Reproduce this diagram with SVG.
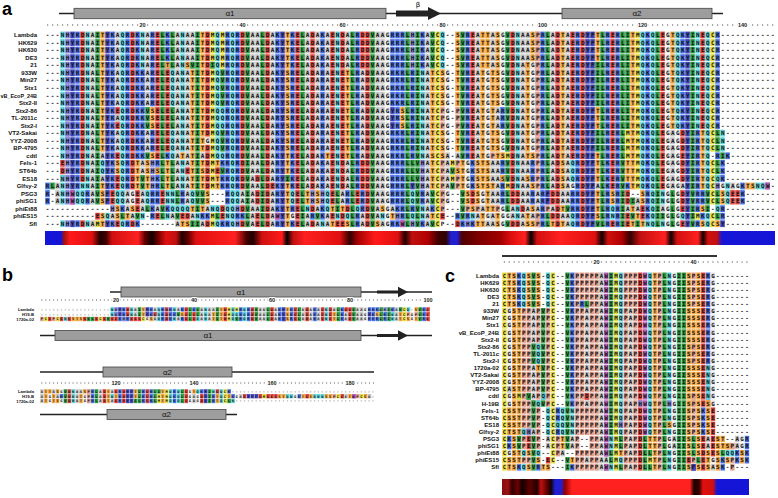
<svg xmlns="http://www.w3.org/2000/svg" width="778" height="498" viewBox="0 0 778 498">
<style>
.xd,.xk,.xs,.xn,.xv,.xa,.xg,.xf,.xh,.xw,.xp,.xc{fill:none;stroke:none}
.xd{marker:url(#md)}.xk{marker:url(#mk)}.xs{marker:url(#ms)}.xn{marker:url(#mn)}.xv{marker:url(#mv)}.xa{marker:url(#ma)}
.xg{marker:url(#mg)}.xf{marker:url(#mf)}.xh{marker:url(#mh)}.xw{marker:url(#mw)}.xp{marker:url(#mp)}.xc{marker:url(#mc)}
.lb{font-family:"Liberation Sans",Arial,sans-serif;font-weight:bold;font-size:6px;text-anchor:end;fill:#111}
.lbb{font-size:4.2px}
.sa,.sc,.sb{font-family:"DejaVu Sans Mono",monospace;font-weight:bold;fill:#111}
.sa{font-size:6px;letter-spacing:1.39px}
.sc{font-size:5.8px;letter-spacing:1.36px}
.sb{font-size:3.6px;letter-spacing:1.73px}
.rl{fill:none;stroke:#555;stroke-width:1.1}
.rn{font-family:"Liberation Sans",Arial,sans-serif;font-weight:bold;font-size:5.5px;text-anchor:middle;fill:#222;stroke:#fff;stroke-width:2.2px;paint-order:stroke}
.bar{fill:#9d9d9d;stroke:#444;stroke-width:.8}
.ln{stroke:#222;stroke-width:1.4;fill:none}
.hx{font-family:"Liberation Sans",Arial,sans-serif;font-size:8px;text-anchor:middle;fill:#111}
.bt{font-family:"DejaVu Sans",sans-serif;font-size:7px;text-anchor:middle;fill:#000}
.pl{font-family:"Liberation Sans",Arial,sans-serif;font-weight:bold;font-size:18px;fill:#000}
</style>
<defs>
<marker id="md" markerUnits="userSpaceOnUse" markerWidth="1" markerHeight="1" overflow="visible"><rect x=".04" y=".05" width=".92" height=".9" fill="#e0443e"/></marker>
<marker id="mk" markerUnits="userSpaceOnUse" markerWidth="1" markerHeight="1" overflow="visible"><rect x=".04" y=".05" width=".92" height=".9" fill="#4a72e8"/></marker>
<marker id="ms" markerUnits="userSpaceOnUse" markerWidth="1" markerHeight="1" overflow="visible"><rect x=".04" y=".05" width=".92" height=".9" fill="#f4a640"/></marker>
<marker id="mn" markerUnits="userSpaceOnUse" markerWidth="1" markerHeight="1" overflow="visible"><rect x=".04" y=".05" width=".92" height=".9" fill="#5cd3dd"/></marker>
<marker id="mv" markerUnits="userSpaceOnUse" markerWidth="1" markerHeight="1" overflow="visible"><rect x=".04" y=".05" width=".92" height=".9" fill="#2f9a42"/></marker>
<marker id="ma" markerUnits="userSpaceOnUse" markerWidth="1" markerHeight="1" overflow="visible"><rect x=".04" y=".05" width=".92" height=".9" fill="#c8c8c8"/></marker>
<marker id="mg" markerUnits="userSpaceOnUse" markerWidth="1" markerHeight="1" overflow="visible"><rect x=".04" y=".05" width=".92" height=".9" fill="#ebebeb"/></marker>
<marker id="mf" markerUnits="userSpaceOnUse" markerWidth="1" markerHeight="1" overflow="visible"><rect x=".04" y=".05" width=".92" height=".9" fill="#4046b8"/></marker>
<marker id="mh" markerUnits="userSpaceOnUse" markerWidth="1" markerHeight="1" overflow="visible"><rect x=".04" y=".05" width=".92" height=".9" fill="#8686d6"/></marker>
<marker id="mw" markerUnits="userSpaceOnUse" markerWidth="1" markerHeight="1" overflow="visible"><rect x=".04" y=".05" width=".92" height=".9" fill="#b45ab4"/></marker>
<marker id="mp" markerUnits="userSpaceOnUse" markerWidth="1" markerHeight="1" overflow="visible"><rect x=".04" y=".05" width=".92" height=".9" fill="#e0a090"/></marker>
<marker id="mc" markerUnits="userSpaceOnUse" markerWidth="1" markerHeight="1" overflow="visible"><rect x=".04" y=".05" width=".92" height=".9" fill="#e4dc3c"/></marker>
<linearGradient id="gA" gradientUnits="userSpaceOnUse" x1="0" y1="0" x2="1000" y2="0">
<stop offset=".045" stop-color="#1515d8"/><stop offset=".061" stop-color="#1515d8"/><stop offset=".064" stop-color="#a01010"/><stop offset=".070" stop-color="#ff1a1a"/><stop offset=".092" stop-color="#e01010"/><stop offset=".100" stop-color="#200000"/><stop offset=".106" stop-color="#400000"/><stop offset=".112" stop-color="#d01010"/><stop offset=".138" stop-color="#ff2020"/><stop offset=".145" stop-color="#600000"/><stop offset=".152" stop-color="#100000"/><stop offset=".158" stop-color="#700000"/><stop offset=".166" stop-color="#e01010"/><stop offset=".176" stop-color="#c01010"/><stop offset=".182" stop-color="#200000"/><stop offset=".188" stop-color="#600000"/><stop offset=".196" stop-color="#e01010"/><stop offset=".235" stop-color="#ff2020"/><stop offset=".247" stop-color="#400000"/><stop offset=".253" stop-color="#200000"/><stop offset=".262" stop-color="#d01010"/><stop offset=".282" stop-color="#ff1a1a"/><stop offset=".287" stop-color="#000"/><stop offset=".293" stop-color="#c01010"/><stop offset=".305" stop-color="#ff2020"/><stop offset=".340" stop-color="#e01010"/><stop offset=".350" stop-color="#300000"/><stop offset=".357" stop-color="#a00000"/><stop offset=".375" stop-color="#ff1a1a"/><stop offset=".398" stop-color="#e01010"/><stop offset=".405" stop-color="#200000"/><stop offset=".412" stop-color="#c01010"/><stop offset=".428" stop-color="#b00000"/><stop offset=".438" stop-color="#400000"/><stop offset=".446" stop-color="#300000"/><stop offset=".451" stop-color="#2020d0"/><stop offset=".457" stop-color="#2020d0"/><stop offset=".462" stop-color="#500000"/><stop offset=".480" stop-color="#800000"/><stop offset=".500" stop-color="#a00000"/><stop offset=".512" stop-color="#e01010"/><stop offset=".525" stop-color="#ff2020"/><stop offset=".531" stop-color="#000"/><stop offset=".537" stop-color="#d01010"/><stop offset=".560" stop-color="#ff2020"/><stop offset=".595" stop-color="#e01010"/><stop offset=".602" stop-color="#100000"/><stop offset=".608" stop-color="#d01010"/><stop offset=".622" stop-color="#b00000"/><stop offset=".630" stop-color="#300000"/><stop offset=".640" stop-color="#c01010"/><stop offset=".665" stop-color="#ff2020"/><stop offset=".671" stop-color="#100000"/><stop offset=".677" stop-color="#d01010"/><stop offset=".698" stop-color="#ff2020"/><stop offset=".703" stop-color="#100000"/><stop offset=".708" stop-color="#d01010"/><stop offset=".717" stop-color="#c01010"/><stop offset=".722" stop-color="#1515d8"/><stop offset=".775" stop-color="#1515d8"/>
</linearGradient>
<linearGradient id="gC" gradientUnits="userSpaceOnUse" x1="0" y1="0" x2="1000" y2="0">
<stop offset=".502" stop-color="#801010"/><stop offset=".508" stop-color="#a01010"/><stop offset=".512" stop-color="#300000"/><stop offset=".518" stop-color="#700000"/><stop offset=".522" stop-color="#100000"/><stop offset=".530" stop-color="#600000"/><stop offset=".537" stop-color="#200000"/><stop offset=".541" stop-color="#c01010"/><stop offset=".547" stop-color="#600000"/><stop offset=".551" stop-color="#100000"/><stop offset=".555" stop-color="#2020d0"/><stop offset=".561" stop-color="#2020d0"/><stop offset=".565" stop-color="#900000"/><stop offset=".572" stop-color="#ff2020"/><stop offset=".690" stop-color="#ff2020"/><stop offset=".694" stop-color="#200000"/><stop offset=".699" stop-color="#300000"/><stop offset=".703" stop-color="#e01010"/><stop offset=".713" stop-color="#d01010"/><stop offset=".717" stop-color="#1515d8"/><stop offset=".750" stop-color="#1515d8"/>
</linearGradient>
<g id="A1"><path class="xd" d="M7 0H17 22 32 39 44 50 53 57 59 63 64 85 93 102 105 107 113 123 131"/><path class="xk" d="M6 0H13 16 18 21 24 36 38 46 49 55 62 69 70 71 75 84 99 106 112 114 120 127 134"/><path class="xs" d="M11 0H31 48 82 87 88 90 97 103 110 117 125"/><path class="xn" d="M3 0H8 15 19 27 34 37 58 79 94 119 121 126 130 132"/><path class="xv" d="M10 0H23 25 30 40 43 51 61 65 72 74 77 83 92 100 111 115 116 122 129"/><path class="xa" d="M9 0H14 20 26 28 29 41 42 45 52 54 56 60 66 67 76 86 89 95 96 101 104"/><path class="xg" d="M68 0H91 124"/><path class="xf" d="M5 0H12 47 108 109 128"/><path class="xh" d="M4 0H73"/><path class="xp" d="M98 0H98"/><path class="xc" d="M33 0H35 78 118 133"/></g>
<g id="A6"><path class="xd" d="M7 0H17 22 24 32 39 44 50 53 57 59 64 85 93 102 105 107 113 123 131"/><path class="xk" d="M6 0H13 16 18 19 21 36 38 46 49 55 62 69 70 71 73 84 99 106 112 114 120 127 134"/><path class="xs" d="M11 0H29 31 48 60 77 79 82 87 89 90 96 103 117 125"/><path class="xn" d="M3 0H8 15 25 27 34 37 58 75 94 119 121 126 130 132"/><path class="xv" d="M10 0H23 30 35 40 43 51 61 65 72 74 83 92 100 110 111 115 116 122 129"/><path class="xa" d="M9 0H14 20 26 28 41 42 45 52 54 56 63 66 67 76 86 95 101 104"/><path class="xg" d="M68 0H80 88 91 97 124"/><path class="xf" d="M5 0H12 47 108 109 128"/><path class="xh" d="M4 0H4"/><path class="xp" d="M98 0H98"/><path class="xc" d="M33 0H78 118 133"/></g>
<g id="A11"><path class="xd" d="M7 0H14 17 22 24 32 39 44 50 53 57 59 64 85 93 102 105 107 113 123 131"/><path class="xk" d="M6 0H13 16 18 19 36 38 46 49 55 62 70 73 84 91 99 106 112 114 120 127 134"/><path class="xs" d="M11 0H21 29 31 48 60 71 77 87 89 96 103 110 117 125"/><path class="xn" d="M3 0H8 15 27 34 35 37 58 75 94 119 121 126 130 132"/><path class="xv" d="M10 0H20 23 25 30 40 43 51 61 65 72 74 83 92 100 111 115 116 122 129"/><path class="xa" d="M9 0H26 28 41 42 45 52 54 56 63 66 67 76 86 90 95 101 104"/><path class="xg" d="M68 0H80 88 97 124"/><path class="xf" d="M5 0H12 47 69 108 109 128"/><path class="xh" d="M4 0H4"/><path class="xp" d="M79 0H82 98"/><path class="xc" d="M33 0H78 118 133"/></g>
<g id="A14"><path class="xd" d="M7 0H17 22 24 32 39 44 50 53 57 59 64 85 93 102 105 107 113 123 127"/><path class="xk" d="M6 0H13 16 18 19 21 36 38 46 49 55 62 69 70 71 73 84 99 106 112 114 120 130"/><path class="xs" d="M11 0H29 31 48 60 77 79 82 87 89 90 96 103 117 131"/><path class="xn" d="M3 0H8 15 25 27 34 37 58 75 94 119 121 132 135"/><path class="xv" d="M10 0H23 30 35 40 43 51 61 65 72 74 83 92 100 110 111 115 122 129 134"/><path class="xa" d="M9 0H14 20 26 28 41 42 45 52 54 56 63 66 67 76 86 95 101 104 125"/><path class="xg" d="M68 0H80 88 91 97 124 126"/><path class="xf" d="M5 0H12 47 108 109 128"/><path class="xh" d="M4 0H4"/><path class="xp" d="M98 0H98"/><path class="xc" d="M33 0H78 116 118 133"/></g>
<g id="A17"><path class="xd" d="M7 0H14 17 22 32 39 44 50 53 57 59 64 85 93 102 105 107 113 123 127"/><path class="xk" d="M6 0H13 16 18 19 24 36 38 46 49 55 62 69 70 71 73 84 99 106 112 114 120 130 134 136"/><path class="xs" d="M21 0H27 29 48 56 60 77 79 87 90 91 96 97 103 110 117 131"/><path class="xn" d="M3 0H8 15 25 34 35 37 58 75 94 119 121 132"/><path class="xv" d="M10 0H20 23 30 40 43 51 61 65 72 74 83 100 111 115 122 129 135"/><path class="xa" d="M9 0H11 26 28 31 41 42 45 52 54 63 66 67 76 80 82 86 95 101 104 125"/><path class="xg" d="M68 0H88 124 126"/><path class="xf" d="M5 0H12 47 108 109 128"/><path class="xh" d="M4 0H4"/><path class="xp" d="M89 0H98"/><path class="xc" d="M33 0H78 92 116 118"/></g>
<g id="A18"><path class="xd" d="M3 0H7 17 32 39 44 50 53 57 59 63 64 93 102 107 113 123 127"/><path class="xk" d="M6 0H13 16 22 35 36 38 46 49 55 62 69 70 71 85 91 97 99 106 112 114 120 130 135"/><path class="xs" d="M14 0H18 20 24 29 31 34 48 77 83 86 87 88 103 110 116 117 131"/><path class="xn" d="M8 0H11 15 27 37 58 94 105 119 121 132"/><path class="xv" d="M10 0H23 25 30 40 43 51 61 65 72 73 74 92 100 111 115 122 129 134"/><path class="xa" d="M9 0H19 26 28 41 42 45 52 54 56 60 66 67 76 80 89 90 95 96 101 104 125"/><path class="xg" d="M68 0H84 124 126"/><path class="xf" d="M5 0H12 47 108 109 128"/><path class="xh" d="M4 0H21 75"/><path class="xp" d="M79 0H82 98"/><path class="xc" d="M33 0H78 81 118 133"/></g>
<g id="A21"><path class="xd" d="M14 0H17 32 39 44 45 50 53 57 59 63 64 93 102 107 113 123"/><path class="xk" d="M0 0H6 13 16 22 35 36 38 46 49 55 62 69 70 71 85 91 99 106 112 114 116 120 130 139"/><path class="xs" d="M11 0H18 20 24 29 31 34 48 77 83 86 87 88 89 97 103 117 131 140 141"/><path class="xn" d="M3 0H7 8 15 27 37 58 94 119 121 132 136 142 143"/><path class="xv" d="M1 0H10 19 23 25 30 40 43 51 61 65 72 74 81 100 111 115 122 129"/><path class="xa" d="M2 0H9 26 28 41 42 52 54 56 60 66 67 76 80 90 95 96 101 104 110 125 127 137"/><path class="xg" d="M68 0H84 105 124 126 135 138"/><path class="xf" d="M5 0H12 47 73 108 109 128"/><path class="xh" d="M4 0H21 75 134"/><path class="xw" d="M144 0H144"/><path class="xp" d="M79 0H82 98"/><path class="xc" d="M33 0H78 92 118 133"/></g>
<g id="A22"><path class="xd" d="M13 0H18 23 42 44 50 57 62 64 85 93 94 101 102 107 116 127 137 138"/><path class="xk" d="M0 0H8 21 22 27 36 46 60 63 69 70 71 75 91 97 99 105 106 112 114 120 130 131 139"/><path class="xs" d="M11 0H32 48 52 54 84 86 88 110 113 119 135"/><path class="xn" d="M3 0H6 7 14 15 20 24 25 29 37 38 49 56 73 121 123 136"/><path class="xv" d="M10 0H26 30 31 40 43 51 58 61 65 72 74 77 83 92 111 115 122 125 129 132 134"/><path class="xa" d="M2 0H9 16 19 28 39 41 45 59 66 67 76 89 90 95 96 98 103 104"/><path class="xg" d="M17 0H68 80 87 124 126"/><path class="xf" d="M12 0H47 100 108 109 128"/><path class="xh" d="M4 0H53 55"/><path class="xw" d="M5 0H5"/><path class="xp" d="M79 0H79"/><path class="xc" d="M78 0H133"/></g>
<g id="A24"><path class="xd" d="M18 0H35 39 44 50 53 60 64 95 102 107 119 127"/><path class="xk" d="M15 0H21 24 46 49 55 63 70 71 73 77 99 105 106 112 114 120 130 135"/><path class="xs" d="M14 0H17 29 31 48 57 59 67 85 88 89 97 103 110 117 131"/><path class="xn" d="M25 0H26 27 28 33 34 36 37 52 56 62 75 94 113 121 134"/><path class="xv" d="M20 0H23 30 40 43 51 58 61 65 72 74 83 92 104 111 115 122 125 129 132"/><path class="xa" d="M16 0H19 22 32 41 42 45 54 66 69 76 87 93 96 98 101 116 118 123"/><path class="xg" d="M68 0H91 124 126"/><path class="xf" d="M47 0H108 109 128"/><path class="xh" d="M13 0H38"/><path class="xp" d="M79 0H84 86 90 100"/><path class="xc" d="M78 0H78"/></g>
<g id="A25"><path class="xd" d="M10 0H22 27 28 35 42 44 50 57 59 64 79 101 102 107 116 119"/><path class="xk" d="M21 0H31 32 38 39 53 55 62 71 82 84 99 106 112 114 120 131 135"/><path class="xs" d="M11 0H14 16 48 69 77 87 90 96 110 118"/><path class="xn" d="M12 0H19 24 30 36 37 58 60 67 73 75 85 94 105 113 121 127 132"/><path class="xv" d="M15 0H18 23 26 34 40 43 51 54 61 65 72 74 83 100 111 115 117 122 123 125 129 134"/><path class="xa" d="M13 0H17 25 29 41 45 52 56 63 66 76 86 89 93 95 97 103 104"/><path class="xg" d="M49 0H68 88 91 92 124 126"/><path class="xf" d="M47 0H108 109 128"/><path class="xh" d="M70 0H70"/><path class="xw" d="M46 0H46"/><path class="xp" d="M98 0H98"/><path class="xc" d="M33 0H78 130 133"/></g>
<g id="A26"><path class="xd" d="M7 0H14 17 32 39 42 44 50 53 58 59 64 82 93 94 102 107 113 116 127"/><path class="xk" d="M6 0H13 16 18 35 36 46 49 62 69 70 75 83 85 99 106 112 114 130"/><path class="xs" d="M11 0H27 28 48 57 60 66 86 87 90 96 97 101 103 117 119 131 134"/><path class="xn" d="M3 0H8 15 34 37 55 105 120 121 123 132"/><path class="xv" d="M29 0H30 40 43 51 61 65 72 74 77 92 100 110 111 115 118 122 125 129"/><path class="xa" d="M9 0H26 31 41 45 52 54 56 63 67 76 88 89 95 104"/><path class="xg" d="M68 0H91 124 126"/><path class="xf" d="M5 0H12 47 108 109 128 135"/><path class="xh" d="M4 0H38 73 84"/><path class="xw" d="M71 0H71"/><path class="xp" d="M98 0H98"/><path class="xc" d="M10 0H33 78 133"/></g>
<g id="C1"><path class="xd" d="M28 0H41"/><path class="xk" d="M3 0H14 42"/><path class="xs" d="M1 0H2 5 7 31 38 40"/><path class="xn" d="M4 0H9 24 30 34"/><path class="xv" d="M6 0H13 22 33 36 37"/><path class="xa" d="M20 0H20"/><path class="xg" d="M35 0H43"/><path class="xw" d="M21 0H29"/><path class="xp" d="M15 0H16 17 18 19 25 26 27 32 39"/><path class="xc" d="M0 0H10 23"/></g>
<g id="C6"><path class="xd" d="M28 0H41"/><path class="xk" d="M14 0H42"/><path class="xs" d="M2 0H3 31 38 39 40"/><path class="xn" d="M24 0H30 34"/><path class="xv" d="M8 0H13 22 33 36 37"/><path class="xa" d="M6 0H17 20 26"/><path class="xg" d="M1 0H35 43"/><path class="xw" d="M21 0H29"/><path class="xp" d="M4 0H5 7 9 15 16 18 19 25 27 32"/><path class="xc" d="M0 0H10 23"/></g>
<g id="C20"><path class="xd" d="M28 0H43"/><path class="xk" d="M11 0H41"/><path class="xs" d="M1 0H2 3 31 38 40 42"/><path class="xn" d="M9 0H12 14 24 30 34"/><path class="xv" d="M6 0H13 22 33 36 37"/><path class="xa" d="M20 0H26"/><path class="xg" d="M35 0H35"/><path class="xw" d="M21 0H29"/><path class="xp" d="M4 0H5 7 15 16 17 18 19 25 27 32 39"/><path class="xc" d="M0 0H10 23"/></g>
<g id="C24"><path class="xd" d="M5 0H28 41 43"/><path class="xk" d="M1 0H50"/><path class="xs" d="M2 0H12 30 31 38 40 44 45"/><path class="xn" d="M22 0H22"/><path class="xv" d="M3 0H6 13 24 29 33 36 37 39"/><path class="xa" d="M9 0H14 20 26 35 42 48"/><path class="xg" d="M34 0H49"/><path class="xw" d="M21 0H21"/><path class="xp" d="M4 0H7 11 15 18 19 25 27 32"/><path class="xc" d="M0 0H10 23"/></g>
<g id="C26"><path class="xd" d="M28 0H41 43"/><path class="xk" d="M48 0H50"/><path class="xs" d="M2 0H3 5 24 31 38 40 42 44 49"/><path class="xn" d="M4 0H7 34 46 47"/><path class="xv" d="M6 0H22 29 30 33 36 37 39 45"/><path class="xa" d="M12 0H20 26"/><path class="xg" d="M1 0H35"/><path class="xw" d="M21 0H21"/><path class="xp" d="M11 0H15 16 17 18 19 25 27 32"/><path class="xc" d="M0 0H10 23"/></g>
<g id="C27"><path class="xd" d="M9 0H28 38 41"/><path class="xk" d="M45 0H48 50"/><path class="xs" d="M1 0H2 3 7 14 31 42 44 46 49"/><path class="xn" d="M24 0H34"/><path class="xv" d="M6 0H13 22 29 33 36 37 40"/><path class="xa" d="M17 0H20 21"/><path class="xg" d="M35 0H43"/><path class="xp" d="M4 0H5 15 16 18 19 25 26 27 32 39 47"/><path class="xc" d="M0 0H10 23 30"/></g>
<g id="C28"><path class="xd" d="M28 0H41"/><path class="xk" d="M3 0H7 14 45"/><path class="xs" d="M1 0H2 5 8 9 31 38 40 42 44"/><path class="xn" d="M4 0H22 34"/><path class="xv" d="M6 0H13 24 29 30 33 36 37"/><path class="xa" d="M20 0H26 43"/><path class="xg" d="M35 0H35"/><path class="xf" d="M39 0H39"/><path class="xw" d="M21 0H21"/><path class="xp" d="M15 0H16 17 18 19 25 27 32 47"/><path class="xc" d="M0 0H23"/></g>
</defs>
<rect width="778" height="498" fill="#fff"/>

<g id="panel-a">
<text class="pl" x="2" y="15">a</text>
<g id="a-structure">
<path class="ln" d="M59 13.5H723"/>
<rect class="bar" x="74" y="8.3" width="312" height="10.4"/>
<text class="hx" x="230" y="16.3">α1</text>
<path d="M396 10.6H428V7L441 13.5L428 20V16.4H396Z" fill="#222"/>
<text class="bt" x="418" y="6.5">β</text>
<rect class="bar" x="562" y="8.3" width="150" height="10.4"/>
<text class="hx" x="637" y="16.3">α2</text>
</g>
<g id="a-ruler">
<path class="rl" d="M47 25H775" stroke-dasharray="1.2 3.8"/>
<text class="rn" x="142.5" y="27">20</text><text class="rn" x="242.5" y="27">40</text><text class="rn" x="342.5" y="27">60</text><text class="rn" x="442.5" y="27">80</text><text class="rn" x="542.5" y="27">100</text><text class="rn" x="642.5" y="27">120</text><text class="rn" x="742.5" y="27">140</text>
</g>
<g id="a-cells" transform="translate(45,31.2) scale(5,7.55)">
<use href="#A1"/><use href="#A1" y="1"/><use href="#A1" y="2"/><use href="#A1" y="3"/><use href="#A1" y="4"/>
<use href="#A6" y="5"/><use href="#A6" y="6"/><use href="#A6" y="7"/><use href="#A6" y="8"/><use href="#A6" y="9"/>
<use href="#A11" y="10"/><use href="#A11" y="11"/><use href="#A11" y="12"/>
<use href="#A14" y="13"/><use href="#A14" y="14"/><use href="#A14" y="15"/>
<use href="#A17" y="16"/>
<use href="#A18" y="17"/><use href="#A18" y="18"/><use href="#A18" y="19"/>
<use href="#A21" y="20"/>
<use href="#A22" y="21"/><use href="#A22" y="22"/>
<use href="#A24" y="23"/><use href="#A25" y="24"/><use href="#A26" y="25"/>
<path class="xs" d="M24 4H28 96M22 18H82M91 19H96"/>
<path class="xv" d="M29 4H33 110M35 18H81M19 19H48M117 22H117"/>
<path class="xg" d="M97 4H97M32 14H32"/>
<path class="xa" d="M14 11H14M11 19H11M118 22H118"/>
<path class="xd" d="M28 18H34M14 19H42"/>
<path class="xn" d="M3 19H134"/>
</g>
<g id="a-labels" class="lb">
<text x="37" y="37.1">Lambda</text><text x="37" y="44.65">HK629</text><text x="37" y="52.2">HK630</text><text x="37" y="59.75">DE3</text><text x="37" y="67.3">21</text><text x="37" y="74.85">933W</text><text x="37" y="82.4">Min27</text><text x="37" y="89.95">Stx1</text><text x="37" y="97.5" textLength="36.5" lengthAdjust="spacingAndGlyphs">vB_EcoP_24B</text><text x="37" y="105.05">Stx2-II</text><text x="37" y="112.6">Stx2-86</text><text x="37" y="120.15">TL-2011c</text><text x="37" y="127.7">Stx2-I</text><text x="37" y="135.25">VT2-Sakai</text><text x="37" y="142.8">YYZ-2008</text><text x="37" y="150.35">BP-4795</text><text x="37" y="157.9">cdtI</text><text x="37" y="165.45">Fels-1</text><text x="37" y="173">ST64b</text><text x="37" y="180.55">ES18</text><text x="37" y="188.1">Glfsy-2</text><text x="37" y="195.65">PSG3</text><text x="37" y="203.2">phiSG1</text><text x="37" y="210.75">phiEt88</text><text x="37" y="218.3">phiES15</text><text x="37" y="225.85">Sfl</text>
</g>
<g id="a-seqs" class="sa">
<text x="45.7" y="37.1">---NHYRDNAITYKAQRDKNARELKLANAAITDMQMRQRDVAALDAKYTKELADAKAENDALRDDVAAGRRRLHIKAVCQ--SVREATTASGVDNAASPRLADTAERDYFTLRERLITMQKQLEGTQKYINEQCR-----------</text>
<text x="45.7" y="44.65">---NHYRDNAITYKAQRDKNARELKLANAAITDMQMRQRDVAALDAKYTKELADAKAENDALRDDVAAGRRRLHIKAVCQ--SVREATTASGVDNAASPRLADTAERDYFTLRERLITMQKQLEGTQKYINEQCR-----------</text>
<text x="45.7" y="52.2">---NHYRDNAITYKAQRDKNARELKLANAAITDMQMRQRDVAALDAKYTKELADAKAENDALRDDVAAGRRRLHIKAVCQ--SVREATTASGVDNAASPRLADTAERDYFTLRERLITMQKQLEGTQKYINEQCR-----------</text>
<text x="45.7" y="59.75">---NHYRDNAITYKAQRDKNARELKLANAAITDMQMRQRDVAALDAKYTKELADAKAENDALRDDVAAGRRRLHIKAVCQ--SVREATTASGVDNAASPRLADTAERDYFTLRERLITMQKQLEGTQKYINEQCR-----------</text>
<text x="45.7" y="67.3">---NHYRDNAITYKAQRDKNARELTLANSVITDIQMRQRDVAALDAKYTKELADAKAENDALRDDVAAGRRRLHIKAVCQ--SVREATTASGVDNATGPRLADTAERDYFILRERLITMQKQLEGTQKYINEQCR-----------</text>
<text x="45.7" y="74.85">---NHYRDNALTYKAQRDKKARELEQANATITDMQVRQRDVAALDAKYSRELADARAENETLRADVAAGRKRLRINATCSG-TVREATGTSGVDNATGPRLADTAERDYFILRERLITMQKQLEGTQKYINEQCR-----------</text>
<text x="45.7" y="82.4">---NHYRDNALTYKAQRDKKARELEQANATITDMQVRQRDVAALDAKYSRELADARAENETLRADVAAGRKRLRINATCSG-TVREATGTSGVDNATGPRLADTAERDYFILRERLITMQKQLEGTQKYINEQCR-----------</text>
<text x="45.7" y="89.95">---NHYRDNALTYKAQRDKKARELEQANATITDMQVRQRDVAALDAKYSRELADARAENETLRADVAAGRKRLRINATCSG-TVREATGTSGVDNATGPRLADTAERDYFILRERLITMQKQLEGTQKYINEQCR-----------</text>
<text x="45.7" y="97.5">---NHYRDNALTYKAQRDKKARELEQANATITDMQVRQRDVAALDAKYSRELADARAENETLRADVAAGRKRLRINATCSG-TVREATGTSGVDNATGPRLADTAERDYFILRERLITMQKQLEGTQKYINEQCR-----------</text>
<text x="45.7" y="105.05">---NHYRDNALTYKAQRDKKARELEQANATITDMQVRQRDVAALDAKYSRELADARAENETLRADVAAGRKRLRINATCSG-TVREATGTSGVDNATGPRLADTAERDYFILRERLITMQKQLEGTQKYINEQCR-----------</text>
<text x="45.7" y="112.6">---NHYRDNAITYKEQRDKKVSELELANATITDMQQRQRDVAALDARYSRELADARAENETLRADVAAGYRSLRINATCPG-PVREATGTARVDNATGPRLADTAERDYFTLRERLITMQKQLEGTQKYINEQCR-----------</text>
<text x="45.7" y="120.15">---NHYRDNALTYKAQRDKKVSELELANATITDMQQRQRDVAALDARYSRELADARAENETLRADVAAGYRSLRINATCPG-PVREATGTARVDNATGPRLADTAERDYFTLRERLITMQKQLEGTQKYINEQCR-----------</text>
<text x="45.7" y="127.7">---NHYRDNAITYKEQRDKKVSELELANATITDMQQRQRDVAALDARYSRELADARAENETLRADVAAGYRSLRINATCPG-PVREATGTARVDNATGPRLADTAERDYFTLRERLITMQKQLEGTQKYINEQCR-----------</text>
<text x="45.7" y="135.25">---NHYRDNALTYKAQRDKKARELEQANATITDMQVRQRDVAALDAKYSRELADARAENETLRADVAAGRKRLRINATCSG-TVREATGTSGVDNATGPRLADTAERDYFILRERLMTMQKQLEGAGDYIRTQCLN----------</text>
<text x="45.7" y="142.8">---NHYRDNALTYKAQRDKKARELEQANATITGMQVRQRDVAALDAKYSRELADARAENETLRADVAAGRKRLRINATCSG-TVREATGTSGVDNATGPRLADTAERDYFILRERLMTMQKQLEGAGDYIRTQCLN----------</text>
<text x="45.7" y="150.35">---NHYRDNALTYKAQRDKKARELEQANATITDMQVRQRDVAALDAKYSRELADARAENETLRADVAAGRKRLRINATCSG-TVREATGTSGVDNATGPRLADTAERDYFILRERLMTMQKQLEGAGDYIRTQCLN----------</text>
<text x="45.7" y="157.9">---NHYRDNAIAYKEQRDKKVSELKQATATIADMQQRQRDVAALDAKYTKELADAKTENETLRADVAAGRKRLRVNASCSA-AVREATGPTSMDNATSPRLADTAERDYFTLRERLMTMQKQLEGAGEYIRTQ-RIK---------</text>
<text x="45.7" y="165.45">---EHYRDNAIQYKSQRDTASHRLTLANATITDMTKRQRDIAALDARYTKELADAKAENDALRDDVAAGRRRLLVHATCPAMPTGKSTSAARVDNAARPRLADSAQRDYFTLKERVTTMQKQLEGAGDYIRTQCLK----------</text>
<text x="45.7" y="173">---DHYRDNAIQYKSQRDTASHSLTLANETISDMEVRQRDVAALDARYTKELADAKAENDALRDDVAAGRRRLLVHATCPAVSTGKSTSAARVDNAARPRLADSAQRDYFTLKERVTTMQKQLEGAGDYIRTQCLK----------</text>
<text x="45.7" y="180.55">---NHYRDNAIAYKEQRDTVTHKLTLANATITDMTKRQRDVADLDARYIKELADAKAENDALRDDVAAGRRRLLVHATCPAMPTGKSTSAASVDNASRPRLADSAQRDYFTLKERVTTMQKQLEGAGDYIRTQCQK----------</text>
<text x="45.7" y="188.1">RLANHYRNNAITYKEQRDTVTHRLTLANATITDMTKRQRDVAALDEKYTKELADAKAENDALRDDVAAGRRRLYVHATCPAVPTGKSTSTARMDNAASPRLADSAGRDYFALKERVKTMQKQLEGAGAYIRTQCHGNAGKTSNQW-</text>
<text x="45.7" y="195.65">R-ANHWQQRAVSFEQQAGEAQRRENNLRAQVVS---RQQAIADIDARYTQELTHSHQELARLERDVAAGRRRLQVRAVCPG--VSDSGTAARLDDAARARFDDAARRDYFTLRSRID--SRQINGLGDYVRRVCLSQEEK------</text>
<text x="45.7" y="203.2">R-ANHWQQRAVSFEQQAGEAQRRENNLRAQVVS---RQQAIADIDARYTQELTHSHQELARLERDVAAGRRRLQVRAVCPG--VSDSGTAARLDDAARARFDDAARRDYFTLRSRIDIASRQINGLGDYVRRVCLSQEEK------</text>
<text x="45.7" y="210.75">-------------HSKASEALKAVKQQQQTITANQDQQHDVAAIDAKYTRELNDAKQTITDLQRDVASGAKRLRVNAKCP---VPSPATTPGLANDASARPADTVRRDYFTLRQRIATAEKQIAGLGEYIRSI-QR----------</text>
<text x="45.7" y="218.3">----------ESQASLTAVN-RELNAVEDANKKMLENQRKLAELDAWYTGEIARVKAENDQLRADVANGTHRLQLNATCE--RVRNATGATGGANATAPRLDDAAQRDYFSLRNRIEVTEKQIIGLGQYIMKQCLR----------</text>
<text x="45.7" y="225.85">---NHYRDNAMTYKEQRDK-------ATSIIADMQKRQHDVAELDARYTKELADANATEESLRADVSAGRKWLHVKAVCP--DKHKTTAASGVDDASSPRLTDTAQRDYFVLRERIETITNQLNGLGEYVRSQCSY----------</text>
</g>
<rect id="a-conservation" x="45" y="231" width="730" height="14" fill="url(#gA)"/>
</g>

<g id="panel-b">
<text class="pl" x="2" y="281">b</text>
<g id="b-structure-top">
<path class="ln" d="M110 292H432"/>
<rect class="bar" x="121" y="287" width="240" height="10"/>
<text class="hx" x="241" y="294.8" font-size="7">α1</text>
<path d="M377 290.4H398V286.8L408 292L398 297.2V293.6H377Z" fill="#222"/>
</g>
<g id="b-ruler1">
<path class="rl" d="M41.4 300H433" stroke-dasharray="1 2.9" stroke-width="1"/>
<text class="rn" x="116" y="302" font-size="5">20</text><text class="rn" x="194" y="302" font-size="5">40</text><text class="rn" x="272" y="302" font-size="5">60</text><text class="rn" x="350" y="302" font-size="5">80</text><text class="rn" x="428" y="302" font-size="5">100</text>
</g>
<g id="b-cells1" transform="translate(40,307) scale(3.9,4.8)">
<path class="xd" d="M22 0H32 37 47 54 59 65 68 72 74 78 79 99M22 1H29 32 37 39 47 54 59 65 68 72 74 79 99M2 2H5 7 11 14 16 18 19 23 24 25 32 37 39 47 54 59 65 68 72 74 79 99"/>
<path class="xk" d="M21 0H28 31 33 36 39 51 53 61 64 70 77 84 85 86 90 98M21 1H28 31 33 34 51 53 61 64 70 77 85 88 98M20 2H22 31 33 36 51 53 61 64 70 77 84 85 86 88 98"/>
<path class="xs" d="M26 0H46 63 96M26 1H36 44 46 63 75 86 92M8 2H9 10 28 44 46 63 75 92 94 96"/>
<path class="xn" d="M18 0H23 30 34 42 49 52 73 94M18 1H23 30 42 49 50 52 73 90M6 2H30 34 40 42 49 52 73 90"/>
<path class="xv" d="M25 0H38 40 45 55 58 66 76 80 87 89 92 97M25 1H35 38 40 45 55 58 66 76 80 87 89 97M12 2H13 17 38 45 50 55 58 66 76 80 87 89 97"/>
<path class="xa" d="M24 0H29 35 41 43 44 56 57 60 67 69 71 75 81 82 91M24 1H41 43 56 57 60 67 69 71 78 81 82 91M29 2H35 41 43 56 57 60 67 69 71 78 81 82 91"/>
<path class="xg" d="M83 0H83M83 1H95M27 2H83 95"/>
<path class="xf" d="M20 0H27 62M20 1H27 62 84M62 2H62"/>
<path class="xh" d="M19 0H88M19 1H19M21 2H21"/>
<path class="xp" d="M94 1H96M0 2H3"/>
<path class="xc" d="M48 0H50 93M48 1H93M1 2H4 15 26 48 93"/>
</g>
<g class="lb lbb">
<text x="34" y="311">Lambda</text><text x="34" y="315.8">H19-B</text><text x="34" y="320.6">1720a-02</text>
</g>
<g class="sb">
<text x="40.87" y="310.7">------------------NHYRDNAITYKAQRDKNARELKLANAAITDMQMRQRDVAALDAKYTKELADAKAENDALRDDVAAGRRRLHIKAVCQ-SVRE</text>
<text x="40.87" y="315.5">------------------NHYRDNAITYKEQRDKKVSELELANATITDMQQRQRDVAALDARYSRELADARAENETLRADVAAGYRSLRINATCPGPVRE</text>
<text x="40.87" y="320.3">PCEPCENESTSEVLECEVEERHREEECGSAQRDKNARELEQANATITDMQVRQRDVAALDAKYSRELADARAENETLRADVAAGRKRLRINATCSGTVRE</text>
</g>
<g id="b-structure-mid">
<path class="ln" d="M40 335.5H432"/>
<rect class="bar" x="55" y="330.5" width="306" height="10"/>
<text class="hx" x="208" y="338.3" font-size="7">α1</text>
<path d="M377 333.9H398V330.3L408 335.5L398 340.7V337.1H377Z" fill="#222"/>
<path class="ln" d="M40 372H374"/>
<rect class="bar" x="103" y="367" width="129" height="10"/>
<text class="hx" x="167.5" y="374.8" font-size="7">α2</text>
</g>
<g id="b-ruler2">
<path class="rl" d="M41.4 383H374" stroke-dasharray="1 2.9" stroke-width="1"/>
<text class="rn" x="116" y="385" font-size="5">120</text><text class="rn" x="194" y="385" font-size="5">140</text><text class="rn" x="272" y="385" font-size="5">160</text><text class="rn" x="350" y="385" font-size="5">180</text>
</g>
<g id="b-cells2" transform="translate(40,389) scale(3.9,4.8)">
<path class="xd" d="M7 0H16 19 21 27 37 45M7 1H16 21 27 37 41 52 56 58 59 60 68 77M7 2H16 19 21 27 37 41"/>
<path class="xk" d="M13 0H20 26 28 34 41 48M5 1H13 20 26 28 34 44 49 66M13 2H20 26 28 34 44"/>
<path class="xs" d="M1 0H2 4 11 17 24 31 39M1 1H3 10 17 19 24 31 45 48 61 62 67 69 73 74 79 83M1 2H3 4 10 17 31 45"/>
<path class="xn" d="M8 0H33 35 40 44 46M8 1H18 33 35 46 63 64 70 71 72M8 2H33 35 46 49"/>
<path class="xv" d="M6 0H14 25 29 30 36 43M6 1H14 25 29 36 43M6 2H14 24 25 29 36 43 48"/>
<path class="xa" d="M0 0H3 9 10 15 18M0 1H4 9 15 39 51 78 84M0 2H9 15 18 39"/>
<path class="xg" d="M5 0H38M2 1H11 38 40 50 65M2 2H5 11 38 40"/>
<path class="xf" d="M22 0H23 42M22 1H23 42 53 54 55M22 2H23 42"/>
<path class="xw" d="M80 1H80"/>
<path class="xp" d="M12 0H12M12 1H75 81M12 2H12"/>
<path class="xc" d="M32 0H47M30 1H32 47 57 76 82M30 2H32 47"/>
</g>
<g class="lb lbb">
<text x="34" y="393">Lambda</text><text x="34" y="397.8">H19-B</text><text x="34" y="402.6">1720a-02</text>
</g>
<g class="sb">
<text x="40.87" y="392.7">ATTASGVDNAASPRLADTAERDYFTLRERLITMQKQLEGTQKYINEQCR-------------------------------------</text>
<text x="40.87" y="397.5">ATGTARVDNATGPRLADTNTRDYFTLRERLMTMQKQLEGAGDYIRTQCTKGAEYYFEMEEESTQNGKTESQNNSSPCEATWPCSA-</text>
<text x="40.87" y="402.3">ATGTSGVDNATGPRLADTAERDYFILRERLMTMQKQLEGAGDYIRTQCLN------------------------------------</text>
</g>
<g id="b-structure-bottom">
<path class="ln" d="M40 414.5H237"/>
<rect class="bar" x="107" y="409.5" width="119" height="10"/>
<text class="hx" x="166.5" y="417.3" font-size="7">α2</text>
</g>
</g>

<g id="panel-c">
<text class="pl" x="445" y="282">c</text>
<path d="M502 256H717" stroke="#333" stroke-width="2"/>
<g id="c-ruler">
<path class="rl" d="M503.8 262H750" stroke-dasharray="1.2 3.65"/>
<text class="rn" x="596.6" y="264">20</text><text class="rn" x="693.6" y="264">40</text>
</g>
<g id="c-cells" transform="translate(502,272.15) scale(4.85,7.1)">
<use href="#C1"/><use href="#C1" y="1"/><use href="#C1" y="2"/><use href="#C1" y="3"/><use href="#C1" y="4"/>
<use href="#C6" y="5"/><use href="#C6" y="6"/><use href="#C6" y="7"/><use href="#C6" y="8"/><use href="#C6" y="9"/>
<use href="#C6" y="10"/><use href="#C6" y="11"/><use href="#C6" y="12"/><use href="#C6" y="13"/><use href="#C6" y="14"/>
<use href="#C6" y="15"/><use href="#C6" y="16"/><use href="#C6" y="17"/><use href="#C6" y="18"/>
<use href="#C20" y="19"/><use href="#C20" y="20"/><use href="#C20" y="21"/><use href="#C20" y="22"/>
<use href="#C24" y="23"/><use href="#C24" y="24"/><use href="#C26" y="25"/><use href="#C27" y="26"/><use href="#C28" y="27"/>
<path class="xk" d="M16 4H16"/>
<path class="xv" d="M17 4H17M6 10V11 12 18M5 17H5"/>
<path class="xn" d="M7 10V11 12 18M42 13V14 15 16 17M8 17H8M11 21H11M4 22H4"/>
<path class="xp" d="M39 10V11 12 17 18M47 24H47"/>
<path class="xs" d="M7 13H7M42 18H42M34 21H34M46 24H46"/>
<path class="xa" d="M1 16H1M6 22H6"/>
<path class="xc" d="M3 17H3"/>
<path class="xd" d="M17 17H17"/>
<path class="xh" d="M28 18H34M24 21H24M5 22H5"/>
</g>
<g id="c-labels" class="lb">
<text x="499" y="277.7">Lambda</text><text x="499" y="284.8">HK629</text><text x="499" y="291.9">HK630</text><text x="499" y="299">DE3</text><text x="499" y="306.1">21</text><text x="499" y="313.2">933W</text><text x="499" y="320.3">Min27</text><text x="499" y="327.4">Stx1</text><text x="499" y="334.5">vB_EcoP_24B</text><text x="499" y="341.6">Stx2-II</text><text x="499" y="348.7">Stx2-86</text><text x="499" y="355.8">TL-2011c</text><text x="499" y="362.9">Stx2-I</text><text x="499" y="370">1720a-02</text><text x="499" y="377.1">VT2-Sakai</text><text x="499" y="384.2">YYZ-2008</text><text x="499" y="391.3">BP-4795</text><text x="499" y="398.4">cdtI</text><text x="499" y="405.5">H-19B</text><text x="499" y="412.6">Fels-1</text><text x="499" y="419.7">ST64b</text><text x="499" y="426.8">ES18</text><text x="499" y="433.9">Glfsy-2</text><text x="499" y="441">PSG3</text><text x="499" y="448.1">phiSG1</text><text x="499" y="455.2">phiEt88</text><text x="499" y="462.3">phiES15</text><text x="499" y="469.4">Sfl</text>
</g>
<g id="c-seqs" class="sc">
<text x="502.68" y="277.7">CTSKQSVS-QC--VKPPPPPAWIMQPPPDWQTPLNGIISPSERG-------</text>
<text x="502.68" y="284.8">CTSKQSVS-QC--VKPPPPPAWIMQPPPDWQTPLNGIISPSERG-------</text>
<text x="502.68" y="291.9">CTSKQSVS-QC--VKPPPPPAWIMQPPPDWQTPLNGIISPSERG-------</text>
<text x="502.68" y="299">CTSKQSVS-QC--VKPPPPPAWIMQPPPDWQTPLNGIISPSERG-------</text>
<text x="502.68" y="306.1">CTSKQSVS-QC--VKPRLPPAWIMQPPPDWQTPLNGIISPSERG-------</text>
<text x="502.68" y="313.2">CGSTPPAPVPC--VKPPAPPAWIMQPAPDWQTPLNGIISSSERG-------</text>
<text x="502.68" y="320.3">CGSTPPAPVPC--VKPPAPPAWIMQPAPDWQTPLNGIISSSERG-------</text>
<text x="502.68" y="327.4">CGSTPPAPVPC--VKPPAPPAWIMQPAPDWQTPLNGIISSSERG-------</text>
<text x="502.68" y="334.5">CGSTPPAPVPC--VKPPAPPAWIMQPAPDWQTPLNGIISSSERG-------</text>
<text x="502.68" y="341.6">CGSTPPAPVPC--VKPPAPPAWIMQPAPDWQTPLNGIISSSERG-------</text>
<text x="502.68" y="348.7">CGSTPPVQVPC--VKPPAPPAWIMQPAPDWQTPLNGIISPSERG-------</text>
<text x="502.68" y="355.8">CGSTPPVQVPC--VKPPAPPAWIMQPAPDWQTPLNGIISPSERG-------</text>
<text x="502.68" y="362.9">CGSTPPVQVPC--VKPPAPPAWIMQPAPDWQTPLNGIISPSERG-------</text>
<text x="502.68" y="370">CGSTPPATVPC--VKPPAPPAWIMQPAPDWQTPLNGIISSSENG-------</text>
<text x="502.68" y="377.1">CGSTPPAPVPC--VKPPAPPAWIMQPAPDWQTPLNGIISSSENG-------</text>
<text x="502.68" y="384.2">CGSTPPAPVPC--VKPPAPPAWIMQPAPDWQTPLNGIISSSENG-------</text>
<text x="502.68" y="391.3">CASTPPAPVPC--VKPPAPPAWIMQPAPDWQTPLNGIISSSENG-------</text>
<text x="502.68" y="398.4">CGSMPVAPQPC--VKPPDPPAWIMQPAPDWQTPLNGIISPSENG-------</text>
<text x="502.68" y="405.5">CGSTPPVQVPC--VKPPAPPAWIMQPAPHWQTPLHGIISPSESG-------</text>
<text x="502.68" y="412.6">CSSTPPVP-QCRQVNPPPPPAWIMQPAPDWQTPLNGIISPSKSE-------</text>
<text x="502.68" y="419.7">CSSTPPVP-QCRQVNPPPPPAWIMQPAPDWQTPLNGIISPSKSE-------</text>
<text x="502.68" y="426.8">CSSTPPVP-QCQQVNPPPPPAWIMHPAPDWQTPLSGIISPSKSE-------</text>
<text x="502.68" y="433.9">CTSTQHAP-QCRQVNPPPPPAWIMQPAPDWQTPLNGIISPSKSE-------</text>
<text x="502.68" y="441">CKSVPEVP-ACPTVAP--PPAWNMLPAPDLTTPLGAIISLSEAEST--AGR</text>
<text x="502.68" y="448.1">CKSVPEVP-ACPTVAP--PPAWNMLPAPDLTTPLGAIISLSEAESTSPAGR</text>
<text x="502.68" y="455.2">CGSTQSVQ--CPA--PPPPPAWLMTPAPDLLTPLNGIISLSDSESLQQKSK</text>
<text x="502.68" y="462.3">CSSTPPVS-EC--VTPPAPPAALMQPPPDLMTPLNGIIEPLETGSKSPKSK</text>
<text x="502.68" y="469.4">CTSKQSVRTS---IKPPPPPAWNMLPAPDLLTPLNGIISFSESASK-P---</text>
</g>
<rect id="c-conservation" x="502" y="479" width="247" height="16" fill="url(#gC)"/>
</g>
</svg>
